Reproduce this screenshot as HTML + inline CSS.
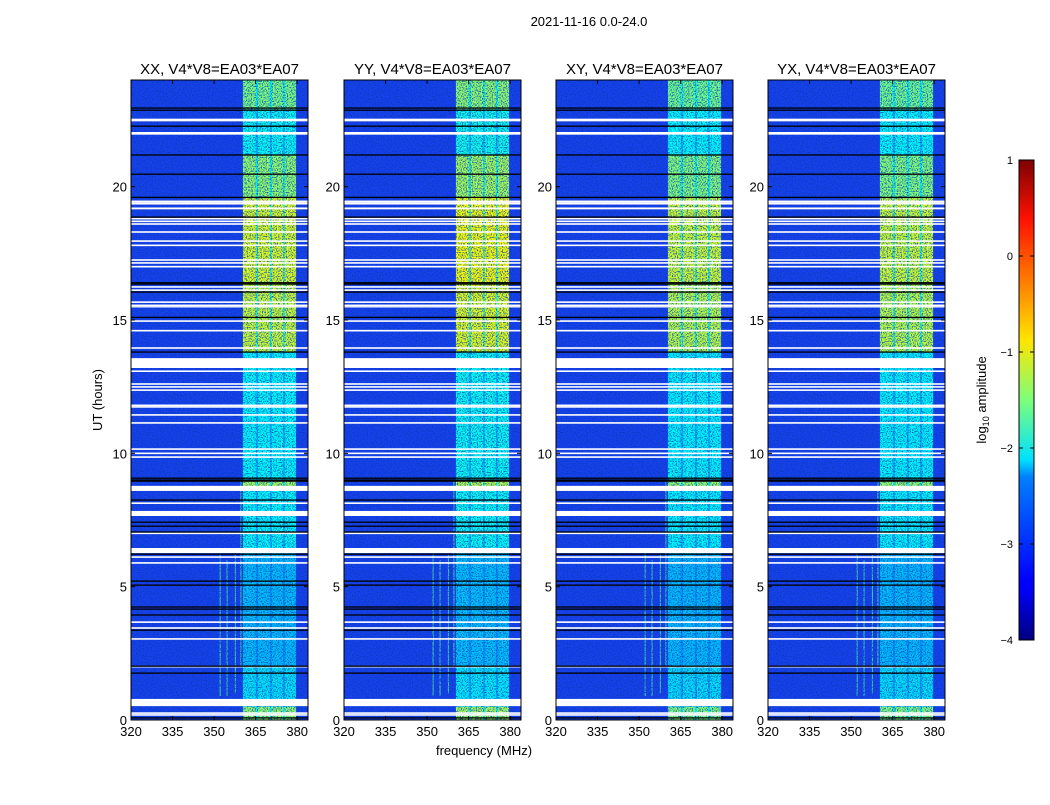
<!DOCTYPE html>
<html><head><meta charset="utf-8"><style>
body{margin:0;background:#fff;width:1050px;height:800px;overflow:hidden;font-family:"Liberation Sans",sans-serif}
svg text{font-family:"Liberation Sans",sans-serif}
</style></head><body>
<svg id="fig" width="1050" height="800" viewBox="0 0 1050 800" xmlns="http://www.w3.org/2000/svg">
<defs>
<filter id="noise" x="0" y="0" width="100%" height="100%">
<feTurbulence type="fractalNoise" baseFrequency="0.8" numOctaves="1" seed="5"/>
<feColorMatrix type="matrix" values="0 0 0 0 0  0 0 0 0 0.05  0 0 0 0 0.45  0 0 0 3.5 -1.55"/>
</filter>
<linearGradient id="jetgrad" x1="0" y1="1" x2="0" y2="0">
<stop offset="0" stop-color="#00007f"/><stop offset="0.11" stop-color="#0000ff"/>
<stop offset="0.125" stop-color="#0000ff"/><stop offset="0.34" stop-color="#0080ff"/>
<stop offset="0.375" stop-color="#00e0ff"/><stop offset="0.5" stop-color="#7dff7a"/>
<stop offset="0.625" stop-color="#ffe500"/><stop offset="0.75" stop-color="#ff7a00"/>
<stop offset="0.875" stop-color="#ff1300"/><stop offset="1" stop-color="#7f0000"/>
</linearGradient>
</defs>
<text x="589" y="26" font-size="13" text-anchor="middle">2021-11-16 0.0-24.0</text>
<g id="panels"></g>
<text x="484" y="755" font-size="13" text-anchor="middle">frequency (MHz)</text>
<text transform="translate(102,400) rotate(-90)" font-size="13" text-anchor="middle">UT (hours)</text>
<g>
<rect x="1019" y="160" width="15" height="480" fill="url(#jetgrad)" stroke="#000" stroke-width="1"/>
<g id="cbticks"></g>
<text transform="translate(986,400) rotate(-90)" font-size="13" text-anchor="middle">log<tspan font-size="9" dy="3">10</tspan><tspan dy="-3"> amplitude</tspan></text>
</g>
</svg>
<script>
const panelTitles=["XX, V4*V8=EA03*EA07","YY, V4*V8=EA03*EA07","XY, V4*V8=EA03*EA07","YX, V4*V8=EA03*EA07"];
const panelGain=[1.0,1.08,0.95,0.95];
const xTicks=[320,335,350,365,380];
const yTicks=[0,5,10,15,20];
const cbTicks=[1,0,-1,-2,-3,-4];
// band intensity per hour block [start,end,level]
const bandBlocks=[[0,0.5,0.65],[0.5,2,0.22],[2,6.3,0.12],[6.3,8.6,0.28],[8.6,9.0,0.7],[9.0,13.8,0.28],[13.8,16.4,0.8],[16.4,19.6,0.85],[19.6,21.2,0.65],[21.2,22.9,0.3],[22.9,24,0.6]];
// bright sub-columns in MHz [start,end]
const bandCols=[[360.4,365.1],[365.8,370.2],[370.9,374.9],[375.6,379.6]];
// flagged (white) rows, hours [start,end]
const whiteRows=[[22.45,22.55],[21.95,22.05],[19.4,19.48],[19.33,19.4],[19.15,19.22],[18.77,18.83],[18.67,18.73],[18.57,18.63],[18.27,18.33],[17.93,17.99],[17.77,17.83],[17.22,17.28],[17.11,17.17],[16.97,17.03],[16.21,16.27],[16.09,16.15],[15.64,15.7],[15.52,15.58],[15.47,15.52],[14.93,14.99],[14.57,14.63],[13.92,13.98],[13.2,13.57],[13.05,13.11],[12.57,12.63],[12.46,12.52],[12.34,12.4],[11.77,11.83],[11.71,11.77],[11.41,11.47],[11.11,11.17],[10.13,10.19],[9.97,10.03],[9.83,9.89],[8.59,8.78],[8.1,8.16],[7.65,7.84],[6.97,7.03],[6.26,6.45],[6.08,6.14],[5.86,5.92],[3.64,3.7],[3.42,3.48],[3.01,3.07],[1.97,2.03],[0.52,0.79],[0.23,0.29],[0.16,0.22]];
// black rows (hours)
const blackRows=[22.95,22.87,22.27,21.19,20.47,19.6,18.86,16.4,16.35,16.05,15.1,13.8,9.07,9.0,8.96,8.25,7.42,7.27,7.05,6.22,5.21,5.06,4.24,4.16,3.94,3.37,2.02,1.76,0.08];
// narrow RFI vertical lines [MHz, startHour, endHour]
const rfiLines=[[352,0.9,6.3],[354.5,0.9,6],[357.5,1,6.2],[359.5,2,9]];

const NS="http://www.w3.org/2000/svg";
const panelX=[131,344,556,768], PW=177, PT=80, PB=720;
const fx=(p,f)=>panelX[p]+(f-320)*2.77;
const hy=h=>PB-h*(PB-PT)/24;
function jet(v){v=Math.max(0,Math.min(1,v));
 const r=Math.min(Math.max(Math.min(4*v-1.5,-4*v+4.5),0),1);
 const g=Math.min(Math.max(Math.min(4*v-0.5,-4*v+3.5),0),1);
 const b=Math.min(Math.max(Math.min(4*v+0.5,-4*v+2.5),0),1);
 return `rgb(${Math.round(r*255)},${Math.round(g*255)},${Math.round(b*255)})`;}
function mk(tag,attrs,parent){const e=document.createElementNS(NS,tag);for(const k in attrs)e.setAttribute(k,attrs[k]);parent.appendChild(e);return e;}
const root=document.getElementById('panels');
for(let p=0;p<4;p++){
 const g=mk('g',{},root);
 
 
 const bg=mk('rect',{x:panelX[p],y:PT,width:PW,height:PB-PT,fill:'#1a40f0'},g);
 
 
 for(const [h0,h1,lv] of bandBlocks){
  const L=Math.min(1,lv*panelGain[p]);
  for(const [f0,f1] of bandCols){
   const c=mk('rect',{x:fx(p,f0),y:hy(h1),width:fx(p,f1)-fx(p,f0),height:hy(h0)-hy(h1),fill:jet(0.27+L*0.38)},g);
   
   
  }
  for(let i=0;i<bandCols.length-1;i++){
   const c=mk('rect',{x:fx(p,bandCols[i][1]),y:hy(h1),width:fx(p,bandCols[i+1][0])-fx(p,bandCols[i][1]),height:hy(h0)-hy(h1),fill:jet(0.25+L*0.22)},g);
   
   
  }
 }
 for(const [f,h0,h1] of rfiLines){
  const l=mk('rect',{x:fx(p,f),y:hy(h1),width:1,height:hy(h0)-hy(h1),fill:'#40e0a0'},g);
  
  
 }
 const nz=mk('rect',{x:panelX[p],y:PT,width:PW,height:PB-PT,filter:'url(#noise)',opacity:0.9},g);
 
 
 for(const [h0,h1] of whiteRows){
  const r=mk('rect',{x:panelX[p],y:hy(h1),width:PW,height:Math.max(1.3,hy(h0)-hy(h1)),fill:'#fff'},g);
  
  
 }
 for(const h of blackRows){
  const r=mk('rect',{x:panelX[p],y:hy(h)-0.6,width:PW,height:1.3,fill:'#000'},g);
  
  
 }
 const fr=mk('rect',{x:panelX[p],y:PT,width:PW,height:PB-PT,fill:'none',stroke:'#000','stroke-width':1},g);
 
 
 const t=mk('text',{x:panelX[p]+PW/2,y:74,'font-size':15,'text-anchor':'middle'},g);
 t.textContent=panelTitles[p];
 
 
 for(const f of xTicks){
  const x=fx(p,f);
  mk('line',{x1:x,x2:x,y1:PB,y2:PB-4,stroke:'#000'},g);
  mk('line',{x1:x,x2:x,y1:PT,y2:PT+4,stroke:'#000'},g);
  const tt=mk('text',{x:x,y:PB+16,'font-size':13,'text-anchor':'middle'},g);
  tt.textContent=f;
  
  
 }
 for(const h of yTicks){
  const y=hy(h);
  mk('line',{x1:panelX[p],x2:panelX[p]+4,y1:y,y2:y,stroke:'#000'},g);
  mk('line',{x1:panelX[p]+PW,x2:panelX[p]+PW-4,y1:y,y2:y,stroke:'#000'},g);
  const tt=mk('text',{x:panelX[p]-4,y:y+5,'font-size':13,'text-anchor':'end'},g);
  tt.textContent=h;
  
  
 }
}
const cb=document.getElementById('cbticks');
for(const v of cbTicks){
 const y=160+(1-v)*96;
 mk('line',{x1:1019,x2:1023,y1:y,y2:y,stroke:'#000'},cb);
 mk('line',{x1:1034,x2:1030,y1:y,y2:y,stroke:'#000'},cb);
 const tt=mk('text',{x:1013,y:y+4,'font-size':11,'text-anchor':'end'},cb);
 tt.textContent=v<0?'\u2212'+(-v):String(v);
 
 
}
</script>
</body></html>
